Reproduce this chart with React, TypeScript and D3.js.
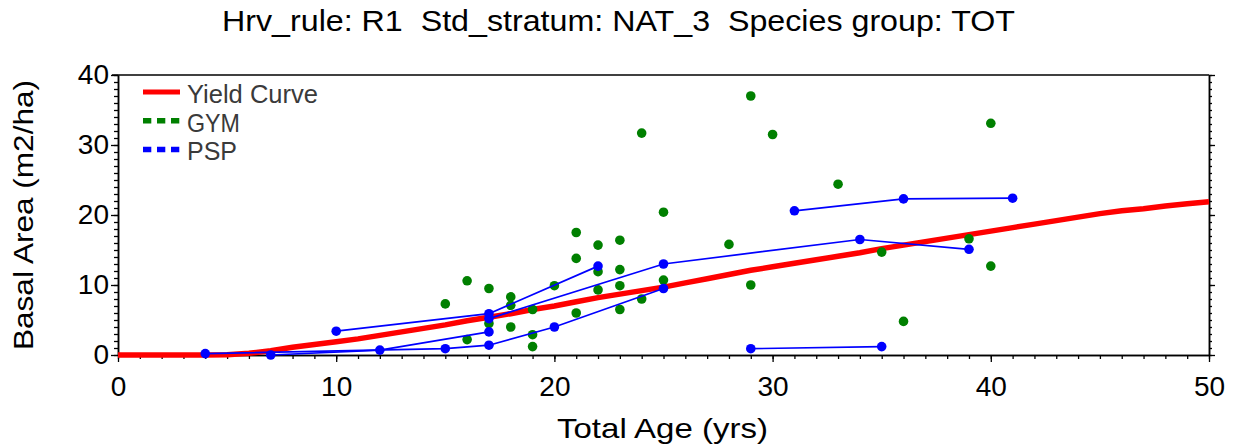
import { useEffect, useRef } from 'react';
import * as d3 from 'd3';

// yield curve
const yieldAges = [0, 1, 2, 3, 4, 5, 6, 7, 8, 9, 10, 11, 12, 13, 14, 15, 16, 17, 18, 19, 20, 21, 22, 23, 24, 25, 26, 27, 28, 29, 30, 31, 32, 33, 34, 35, 36, 37, 38, 39, 40, 41, 42, 43, 44, 45, 46, 47, 48, 49, 50];
const yieldBA = [0, 0, 0, 0, 0, 0.05, 0.25, 0.6, 1.1, 1.5, 1.9, 2.3, 2.8, 3.3, 3.8, 4.3, 4.9, 5.4, 5.9, 6.5, 7.0, 7.6, 8.2, 8.7, 9.2, 9.7, 10.3, 10.9, 11.5, 12.1, 12.6, 13.1, 13.6, 14.1, 14.6, 15.2, 15.7, 16.2, 16.7, 17.2, 17.7, 18.2, 18.7, 19.2, 19.7, 20.2, 20.6, 20.9, 21.3, 21.6, 21.9];

// GYM observations
const gymAges = [15, 16, 16, 17, 17, 18, 18, 18, 19, 19, 19, 20, 21, 21, 21, 22, 22, 22, 23, 23, 23, 23, 24, 24, 25, 25, 28, 29, 29, 30, 33, 35, 36, 39, 40, 40];
const gymBA = [7.3, 10.6, 2.2, 9.5, 4.5, 8.3, 7.1, 4.0, 6.5, 2.9, 1.2, 9.9, 17.5, 13.8, 6.0, 15.7, 11.9, 9.3, 16.4, 12.2, 9.9, 6.5, 31.7, 8.0, 20.4, 10.7, 15.8, 37.0, 10.0, 31.5, 24.4, 14.7, 4.8, 16.6, 33.1, 12.7];

// PSP remeasurements (one id per plot)
const pspPlot = [1, 1, 1, 2, 2, 2, 3, 3, 3, 3, 3, 4, 4, 4, 4, 5, 5, 6, 6, 6];
const pspAges = [10, 17, 22, 7, 12, 17, 4, 15, 17, 20, 25, 17, 25, 34, 39, 29, 35, 31, 36, 41];
const pspBA = [3.4, 5.9, 12.7, 0.0, 0.7, 3.3, 0.2, 0.9, 1.4, 4.0, 9.5, 5.2, 13.0, 16.5, 15.1, 0.9, 1.2, 20.6, 22.3, 22.4];

const xTicks = [0, 10, 20, 30, 40, 50];
const yTicks = [0, 10, 20, 30, 40];
const legendLabels = ['Yield Curve', 'GYM', 'PSP'];

const FONT = '"Liberation Sans", Arial, sans-serif';

export default function App() {
  const ref = useRef<SVGSVGElement | null>(null);
  const width = 1234;
  const height = 448;

  useEffect(() => {
    const svg = d3.select(ref.current);
    svg.selectAll('*').remove();

    const margin = { top: 75, right: 25, bottom: 93, left: 118 };
    const innerWidth = width - margin.left - margin.right;
    const innerHeight = height - margin.top - margin.bottom;

    const x = d3.scaleLinear().domain([0, 50]).range([0, innerWidth]);
    const y = d3.scaleLinear().domain([0, 40]).range([innerHeight, 0]);

    const g = svg
      .append('g')
      .attr('transform', `translate(${margin.left},${margin.top})`);

    // title
    svg
      .append('text')
      .attr('x', 222)
      .attr('y', 31)
      .attr('font-family', FONT)
      .attr('font-size', 29)
      .attr('textLength', 793)
      .attr('lengthAdjust', 'spacingAndGlyphs')
      .style('white-space', 'pre')
      .text('Hrv_rule: R1  Std_stratum: NAT_3  Species group: TOT');

    // minor ticks
    const minorX = d3.range(0, 51);
    const minorY = d3.range(0, 41);
    g.append('g')
      .attr('transform', `translate(0,${innerHeight})`)
      .call(d3.axisBottom(x).tickValues(minorX).tickSize(4).tickSizeOuter(0).tickFormat(() => ''));
    g.append('g')
      .call(d3.axisLeft(y).tickValues(minorY).tickSize(4).tickSizeOuter(0).tickFormat(() => ''));
    g.append('g')
      .attr('transform', `translate(${innerWidth},0)`)
      .call(d3.axisRight(y).tickValues(minorY).tickSize(3).tickSizeOuter(0).tickFormat(() => ''));

    // major ticks
    const xAxis = g
      .append('g')
      .attr('transform', `translate(0,${innerHeight})`)
      .call(d3.axisBottom(x).tickValues(xTicks).tickSize(7).tickSizeOuter(0).tickPadding(14));
    const yAxis = g
      .append('g')
      .call(d3.axisLeft(y).tickValues(yTicks).tickSize(7).tickSizeOuter(0).tickPadding(2));
    g.append('g')
      .attr('transform', `translate(${innerWidth},0)`)
      .call(d3.axisRight(y).tickValues(yTicks).tickSize(6).tickSizeOuter(0).tickFormat(() => ''));

    g.selectAll('.domain').attr('stroke', '#000').attr('stroke-width', 1.5);
    g.selectAll('.tick line').attr('stroke', '#000').attr('stroke-width', 1.3);

    xAxis
      .selectAll('text')
      .attr('font-family', FONT)
      .attr('font-size', 28)
      .attr('fill', '#000');
    yAxis
      .selectAll('text')
      .attr('font-family', FONT)
      .attr('font-size', 28)
      .attr('fill', '#000');

    // top border
    g.append('line')
      .attr('x1', -6)
      .attr('x2', innerWidth)
      .attr('y1', 0)
      .attr('y2', 0)
      .attr('stroke', '#000')
      .attr('stroke-width', 1.5);

    // yield curve
    const line = d3
      .line<number>()
      .x(i => x(yieldAges[i]))
      .y(i => y(yieldBA[i]));
    g.append('path')
      .datum(d3.range(yieldAges.length))
      .attr('fill', 'none')
      .attr('stroke', '#ff0000')
      .attr('stroke-width', 5.5)
      .attr('d', line);

    // GYM points
    g.append('g')
      .selectAll('circle')
      .data(gymAges.map((a, i) => [a, gymBA[i]]))
      .join('circle')
      .attr('cx', d => x(d[0]))
      .attr('cy', d => y(d[1]))
      .attr('r', 4.8)
      .attr('fill', '#008000');

    // PSP lines
    const psp = d3.group(
      pspAges.map((a, i) => ({ plot: pspPlot[i], age: a, ba: pspBA[i] })),
      d => d.plot
    );
    const pspLine = d3
      .line<{ age: number; ba: number }>()
      .x(d => x(d.age))
      .y(d => y(d.ba));
    const pg = g.append('g');
    psp.forEach(pts => {
      pg.append('path')
        .datum(pts)
        .attr('fill', 'none')
        .attr('stroke', '#0000ff')
        .attr('stroke-width', 1.7)
        .attr('d', pspLine);
      pg.selectAll(null)
        .data(pts)
        .enter()
        .append('circle')
        .attr('cx', d => x(d.age))
        .attr('cy', d => y(d.ba))
        .attr('r', 4.8)
        .attr('fill', '#0000ff');
    });

    // legend
    const legendColors = ['#ff0000', '#008000', '#0000ff'];
    const legendWidths = [131, 53, 50];
    const lg = svg.append('g').attr('transform', 'translate(143,92)');
    legendLabels.forEach((label, i) => {
      const row = lg.append('g').attr('transform', `translate(0,${i * 28.7})`);
      row.append('line')
        .attr('x1', 0)
        .attr('x2', 37)
        .attr('y1', 0)
        .attr('y2', 0)
        .attr('stroke', legendColors[i])
        .attr('stroke-width', i === 0 ? 5 : 5.5)
        .attr('stroke-dasharray', i === 0 ? null : '8.3 5.7');
      row.append('text')
        .attr('x', 44)
        .attr('y', 11)
        .attr('font-family', FONT)
        .attr('font-size', 25)
        .attr('fill', '#3a3a3a')
        .attr('textLength', legendWidths[i])
        .attr('lengthAdjust', 'spacingAndGlyphs')
        .text(label);
    });

    // axis labels
    svg
      .append('text')
      .attr('x', 557)
      .attr('y', 438)
      .attr('font-family', FONT)
      .attr('font-size', 28)
      .attr('textLength', 211)
      .attr('lengthAdjust', 'spacingAndGlyphs')
      .text('Total Age (yrs)');
    svg
      .append('text')
      .attr('transform', 'translate(33,350) rotate(-90)')
      .attr('font-family', FONT)
      .attr('font-size', 28)
      .attr('textLength', 270)
      .attr('lengthAdjust', 'spacingAndGlyphs')
      .text('Basal Area (m2/ha)');
  }, []);

  return (
    <svg
      ref={ref}
      width={width}
      height={height}
      style={{ position: 'absolute', left: 0, top: 0, background: '#fff' }}
    ></svg>
  );
}
